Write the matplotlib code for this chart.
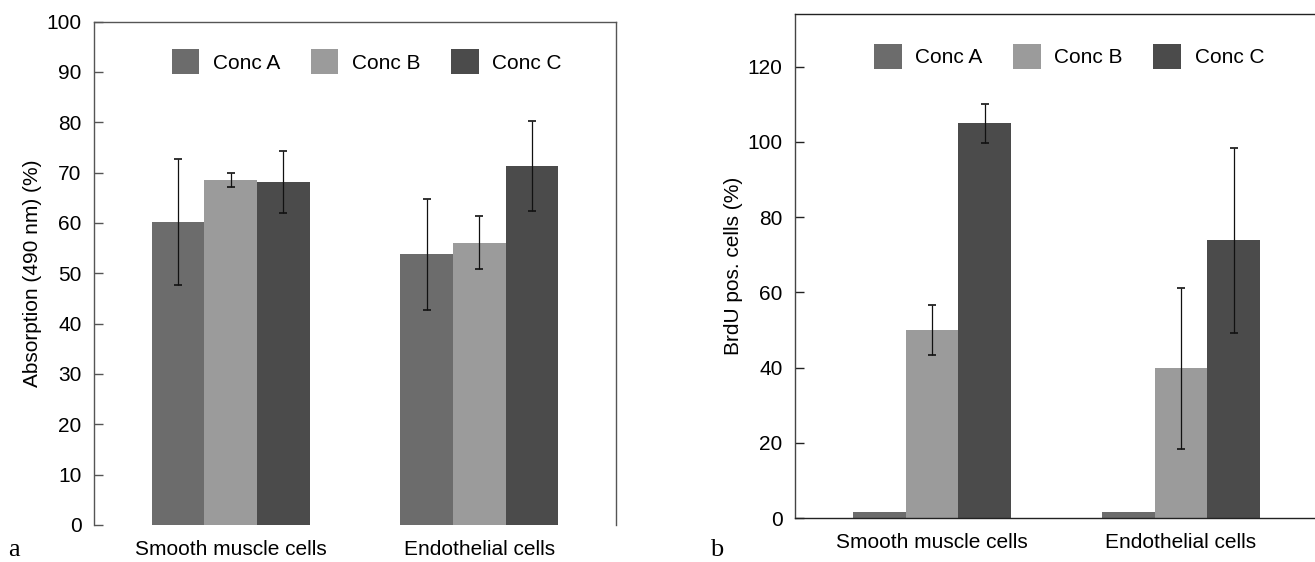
import numpy as np
import matplotlib
matplotlib.use("Agg")
import matplotlib.pyplot as plt

plt.rcParams['font.family'] = ['Liberation Sans', 'DejaVu Sans']

# data
cells = ["Smooth muscle cells", "Endothelial cells"]
concs = ["Conc A", "Conc B", "Conc C"]

absorb_mean = [[60.2, 53.8], [68.5, 56.1], [68.1, 71.3]]
absorb_err = [[12.5, 11.0], [1.4, 5.3], [6.2, 9.0]]

brdu_mean = [[1.5, 1.5], [49.9, 39.8], [104.9, 73.8]]
brdu_err = [[0.0, 0.0], [6.6, 21.4], [5.2, 24.6]]

colors = ["#6c6c6c", "#9b9b9b", "#4b4b4b"]


def barpanel(ax, means, errs, ylim, yticks, ylabel, leg_xy, spine_col):
    """grouped bars with error bars and a legend on top"""
    x = np.arange(len(cells))
    w = 0.212
    for i, name in enumerate(concs):
        pos = x + (i - 1) * w
        ax.bar(pos, means[i], width=w, color=colors[i], label=name,
               edgecolor="none", zorder=2)
        if max(errs[i]) > 0:
            ax.errorbar(pos, means[i], yerr=errs[i], fmt="none",
                        ecolor="#111111", elinewidth=0.9, capsize=3,
                        capthick=1.2, zorder=3)

    ax.set_xlim(-0.55, 1.55)
    ax.set_ylim(*ylim)
    ax.set_yticks(yticks)
    ax.set_xticks(x)
    ax.set_xticklabels(cells)
    ax.tick_params(axis="x", length=0, pad=11, labelsize=15)
    ax.tick_params(axis="y", direction="in", length=6.5, width=1,
                   pad=9, labelsize=15, color=spine_col)
    ax.set_ylabel(ylabel, fontsize=15, labelpad=3)

    for s in ax.spines.values():
        s.set_color(spine_col)
        s.set_linewidth(1.0)

    ax.legend(loc="upper left", bbox_to_anchor=leg_xy, ncol=3,
              frameon=False, fontsize=15, borderpad=0, borderaxespad=0,
              handlelength=1.33, handleheight=1.48, handletextpad=0.66,
              columnspacing=1.45)


fig = plt.figure(figsize=(13.15, 5.62), dpi=100)

# panel a
ax1 = fig.add_axes([94 / 1315, 37 / 562, 522 / 1315, 503.5 / 562])
barpanel(ax1, absorb_mean, absorb_err, (0, 100), range(0, 101, 10),
         "Absorption (490 nm) (%)", (0.149, 0.945), "#555555")
ax1.spines["bottom"].set_visible(False)

# panel b
ax2 = fig.add_axes([795 / 1315, 44 / 562, 523 / 1315, 504 / 562])
barpanel(ax2, brdu_mean, brdu_err, (0, 134), range(0, 121, 20),
         "BrdU pos. cells (%)", (0.151, 0.941), "#222222")
ax2.spines["left"].set_color("#444444")

# panel letters
fig.text(8 / 1315, 1 - 556 / 562, "a", family="Liberation Serif",
         fontsize=19, va="baseline")
fig.text(710 / 1315, 1 - 556 / 562, "b", family="Liberation Serif",
         fontsize=19, va="baseline")

fig.savefig("out.png", dpi=100)
